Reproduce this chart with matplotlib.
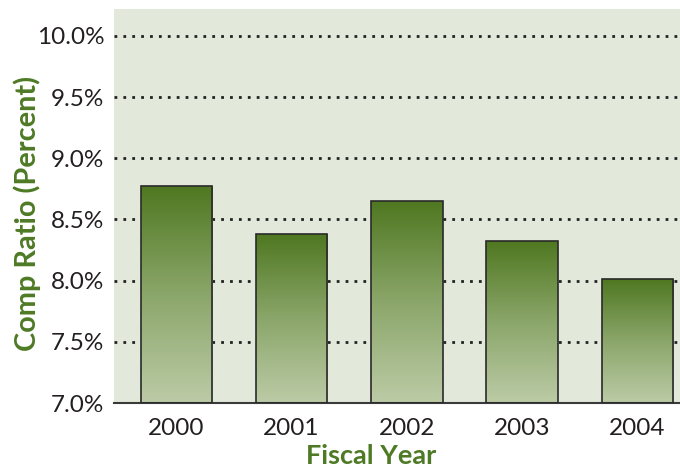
import matplotlib
matplotlib.use("Agg")
import matplotlib.pyplot as plt
import numpy as np
from matplotlib.colors import LinearSegmentedColormap

years = ["2000", "2001", "2002", "2003", "2004"]
ratios = [8.77, 8.38, 8.65, 8.32, 8.01]
yticks = [7.0, 7.5, 8.0, 8.5, 9.0, 9.5, 10.0]
ytick_labels = ["7.0%", "7.5%", "8.0%", "8.5%", "9.0%", "9.5%", "10.0%"]

plt.rcParams['font.family'] = ['Lato', 'DejaVu Sans']

fig = plt.figure(figsize=(6.8, 4.68), dpi=100)
ax = fig.add_axes([114/680, 1 - 403/468, 1 - 114/680, (403 - 9)/468])
ax.set_facecolor("#e2e8da")

x = np.arange(len(years))
width = 0.62
ymin = 7.0

cmap = LinearSegmentedColormap.from_list("g", ["#bccba6", "#8ba66a", "#4f7821"])
bars = ax.bar(x, [r - ymin for r in ratios], width=width, bottom=ymin,
              facecolor="none", edgecolor="#2a2a2a", linewidth=1.2, zorder=3)
for b in bars:
    x0, y0 = b.get_x(), b.get_y()
    w, h = b.get_width(), b.get_height()
    grad = np.linspace(0, 1, 256).reshape(-1, 1)
    im = ax.imshow(grad, cmap=cmap, origin="lower", aspect="auto",
                   extent=[x0, x0 + w, y0, y0 + h], zorder=2)
    im.set_clip_path(b)
ax.set_xlim(-0.54, 4.37)
ax.set_ylim(ymin, 10.22)

for yv in yticks[1:]:
    ax.axhline(yv, color="#222222", linestyle=(0, (1, 2.2)), linewidth=2.0, zorder=1)

ax.set_yticks(yticks)
ax.set_yticklabels(ytick_labels, fontsize=17.5, color="#231f20")
ax.set_xticks(x)
ax.set_xticklabels(years, fontsize=17.5, color="#231f20")
ax.tick_params(axis="y", length=0, pad=7)
ax.tick_params(axis="x", length=0, pad=11)

for s in ["left", "right", "top"]:
    ax.spines[s].set_visible(False)
ax.spines["bottom"].set_color("#3a3a3a")
ax.spines["bottom"].set_linewidth(1.5)

green = "#4e7a25"
ax.set_ylabel("Comp Ratio (Percent)", fontsize=20.8, fontweight="bold", color=green)
ax.yaxis.label.set_va("center")
ax.yaxis.set_label_coords((27 - 114) / 566, (403 - 213) / 394)
ax.set_xlabel("Fiscal Year", fontsize=19.5, fontweight="bold", color=green)
ax.xaxis.label.set_va("center")
ax.xaxis.set_label_coords((371 - 114) / 566, (403 - 456) / 394)

fig.savefig("out.png", dpi=100)
